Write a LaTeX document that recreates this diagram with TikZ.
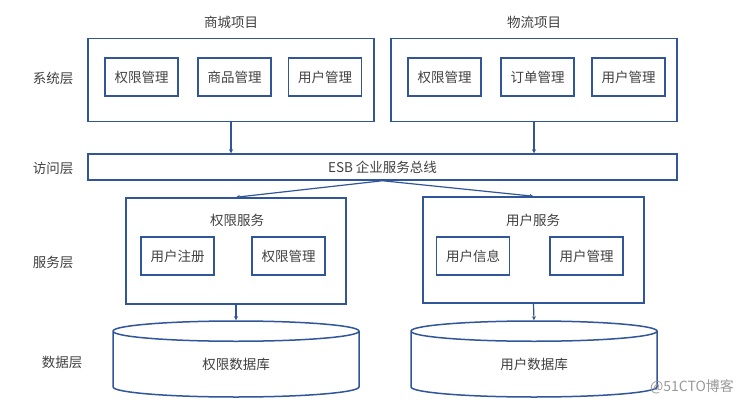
\documentclass[tikz,border=0pt]{standalone}
\usepackage{fontspec}
\setmainfont{Noto Sans CJK SC}
\usetikzlibrary{positioning, shapes.geometric, arrows.meta}
\definecolor{boxblue}{HTML}{30559A}
\definecolor{txtgray}{HTML}{404040}

\begin{document}
\begin{tikzpicture}[
                x=1pt, y=-1pt,
                    txt/.style = {text=txtgray, font=\fontsize{13.5}{16}\selectfont, inner sep=0pt},
                    group/.style = {draw=boxblue, line width=1.5pt, inner sep=0pt},
                    item/.style = {draw=boxblue, line width=1.5pt, minimum width=73pt, minimum height=38pt, inner sep=0pt, text=txtgray, font=\fontsize{13.5}{16}\selectfont},
                    database/.style = {cylinder, draw=boxblue, line width=1.5pt, shape border rotate=90, aspect=0.3, minimum height=76pt, minimum width=246pt, inner sep=0pt, anchor=shape center, text=txtgray, font=\fontsize{13.5}{16}\selectfont},
                    arrow/.style = {-{Stealth[length=4pt, width=4pt]}, line width=1.2pt, draw=boxblue}
                ]
                \useasboundingbox (0,0) rectangle (750,404);

                % layer labels
                \node[txt] (lsys) at (53,78) {系统层};
                \node[txt] (lacc) at (53,168) {访问层};
                \node[txt] (lsvc) at (53,262) {服务层};
                \node[txt] (ldata) at (62,362) {数据层};

                % system layer
                \node[group, minimum width=286pt, minimum height=83pt] (mall) at (231,80) {};
                \node[txt, above=9pt of mall] (malltitle) {商城项目};
                \node[item] (mall1) at (141.5,77) {权限管理};
                \node[item] (mall2) at (234.5,77) {商品管理};
                \node[item] (mall3) at (325,77) {用户管理};

                \node[group, minimum width=286pt, minimum height=83pt] (logi) at (534,80) {};
                \node[txt, above=9pt of logi] (logititle) {物流项目};
                \node[item] (logi1) at (444.5,77) {权限管理};
                \node[item] (logi2) at (537.5,77) {订单管理};
                \node[item] (logi3) at (628.5,77) {用户管理};

                % access layer
                \node[group, minimum width=589pt, minimum height=26pt, text=txtgray, font=\fontsize{13.5}{16}\selectfont] (esb) at (382.5,167) {ESB 企业服务总线};

                % service layer
                \node[group, minimum width=220pt, minimum height=106pt] (auth) at (236,251) {};
                \node[txt] (authtitle) at (237,220) {权限服务};
                \node[item] (auth1) at (177.5,256) {用户注册};
                \node[item] (auth2) at (288.5,256) {权限管理};

                \node[group, minimum width=221pt, minimum height=106pt] (user) at (533.5,250) {};
                \node[txt] (usertitle) at (533,220) {用户服务};
                \node[item] (user1) at (473,256) {用户信息};
                \node[item] (user2) at (586.5,256) {用户管理};

                % data layer
                \node[database] (authdb) at (236,359) {权限数据库};
                \node[database] (userdb) at (534,359) {用户数据库};

                \node[text=gray!80, font=\fontsize{14}{16}\selectfont, inner sep=0pt] (mark) at (692,387) {@51CTO博客};

                \draw[arrow] (mall.south) -- (mall.south |- esb.north);
                \draw[arrow] (logi.south) -- (logi.south |- esb.north);
                \draw[arrow] (esb.south) -- (auth.north);
                \draw[arrow] (esb.south) -- (user.north);
                \draw[arrow] (auth.south) -- (authdb.north);
                \draw[arrow] (user.south) -- (userdb.north);

            \end{tikzpicture}
\end{document}
